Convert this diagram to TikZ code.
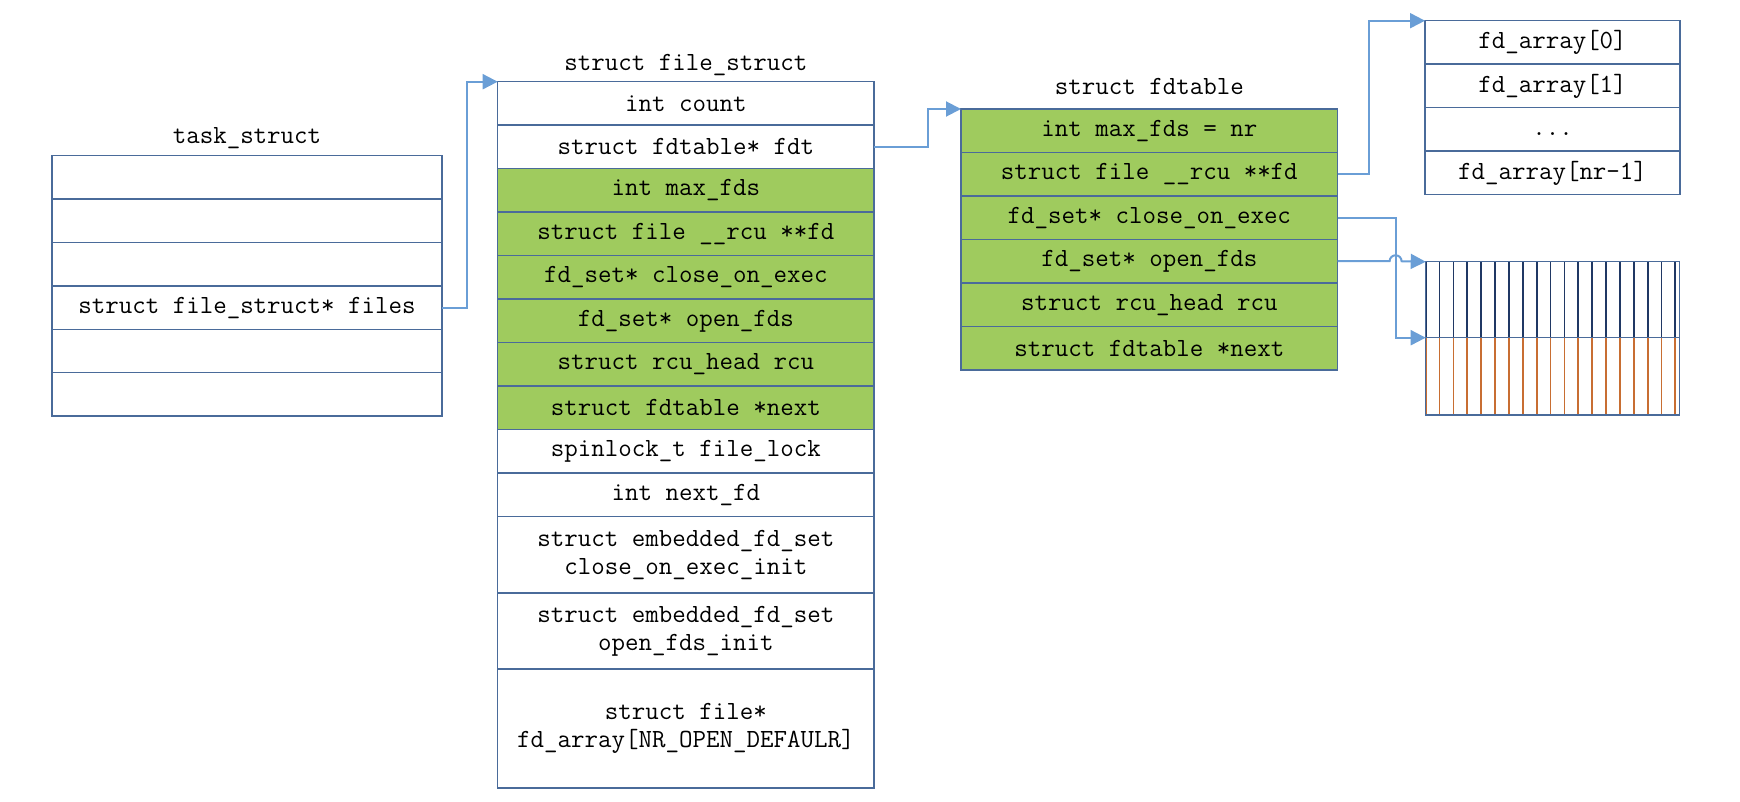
\documentclass[tikz,border=0pt]{standalone}
\usepackage{fontspec}
\usetikzlibrary{positioning,arrows.meta}

\definecolor{boxline}{RGB}{74,107,154}
\definecolor{ptrline}{RGB}{106,158,214}
\definecolor{fdgreen}{RGB}{159,203,94}
\definecolor{bitnavy}{RGB}{32,56,100}
\definecolor{bitorange}{RGB}{200,110,50}

\tikzset{
  field/.style={draw=boxline, line width=0.75pt, fill=white, inner sep=0pt, outer sep=0pt,
    minimum height=21.75pt, align=center, font=\ttfamily\fontsize{13.1}{14.3}\selectfont},
  used/.style={field, fill=fdgreen},
  structname/.style={inner sep=0pt, font=\ttfamily\fontsize{13.1}{14.3}\selectfont},
  ptr/.style={draw=ptrline, line width=1pt, -{Triangle[length=7.5pt,width=7.5pt]}}
}

\begin{document}
\begin{tikzpicture}[x=0.5pt, y=-0.5pt, node distance=0pt]
\useasboundingbox (0,0) rectangle (1740,802);

% task_struct
\node[field, minimum width=195pt, minimum height=21.7pt, anchor=north west] (ts1) at (52,155.7) {};
\node[field, minimum width=195pt, minimum height=21.7pt, below=of ts1] (ts2) {};
\node[field, minimum width=195pt, minimum height=21.7pt, below=of ts2] (ts3) {};
\node[field, minimum width=195pt, minimum height=21.7pt, below=of ts3] (files) {struct file\_struct* files};
\node[field, minimum width=195pt, minimum height=21.7pt, below=of files] (ts5) {};
\node[field, minimum width=195pt, minimum height=21.7pt, below=of ts5] (ts6) {};
\node[structname, above=6.3pt of ts1.north, anchor=base] {task\_struct};

% struct file_struct
\begin{scope}[every node/.append style={minimum width=188.2pt}]
\node[field, anchor=north west] (count) at (497.7,81.7) {int count};
\node[field, below=of count] (fdt) {struct fdtable* fdt};
\node[used, below=of fdt] (fmax) {int max\_fds};
\node[used, below=of fmax] (ffd) {struct file \_\_rcu **fd};
\node[used, below=of ffd] (fcoe) {fd\_set* close\_on\_exec};
\node[used, below=of fcoe] (fopen) {fd\_set* open\_fds};
\node[used, below=of fopen] (frcu) {struct rcu\_head rcu};
\node[used, below=of frcu] (fnext) {struct fdtable *next};
\node[field, below=of fnext] (lock) {spinlock\_t file\_lock};
\node[field, below=of lock] (nextfd) {int next\_fd};
\node[field, minimum height=38.25pt, below=of nextfd] (embcoe) {struct embedded\_fd\_set\\close\_on\_exec\_init};
\node[field, minimum height=38pt, below=of embcoe] (embopen) {struct embedded\_fd\_set\\open\_fds\_init};
\node[field, minimum height=59.3pt, below=of embopen] (fdarr) {struct file*\\fd\_array[NR\_OPEN\_DEFAULR]};
\end{scope}
\node[structname, above=5.8pt of count.north, anchor=base] {struct file\_struct};

% struct fdtable
\begin{scope}[every node/.append style={minimum width=188.3pt, minimum height=21.8pt}]
\node[used, anchor=north west] (tmax) at (961,109) {int max\_fds = nr};
\node[used, below=of tmax] (tfd) {struct file \_\_rcu **fd};
\node[used, below=of tfd] (tcoe) {fd\_set* close\_on\_exec};
\node[used, below=of tcoe] (topen) {fd\_set* open\_fds};
\node[used, below=of topen] (trcu) {struct rcu\_head rcu};
\node[used, below=of trcu] (tnext) {struct fdtable *next};
\end{scope}
\node[structname, above=7pt of tmax.north, anchor=base] {struct fdtable};

% fd_array
\begin{scope}[every node/.append style={minimum width=127.5pt, minimum height=22pt}]
\node[field, anchor=north west] (arr0) at (1425,20.7) {fd\_array[0]};
\node[field, below=of arr0] (arr1) {fd\_array[1]};
\node[field, below=of arr1] (arrdots) {\vphantom{a}...};
\node[field, below=of arrdots] (arrlast) {fd\_array[nr-1]};
\end{scope}

% bitmaps
\node[field, minimum width=126.8pt, minimum height=38pt, anchor=north west] (bitup) at (1425.7,261.7) {};
\node[field, minimum width=126.8pt, minimum height=38.65pt, below=of bitup] (bitlow) {};
\foreach \i in {0,...,18} {
  \draw[bitnavy, line width=0.9pt] ([xshift=\i*6.935pt]bitup.north west) -- ([xshift=\i*6.935pt]bitup.south west);
  \draw[bitorange, line width=0.9pt] ([xshift=\i*6.935pt]bitlow.north west) -- ([xshift=\i*6.935pt]bitlow.south west);
}
\draw[boxline, line width=0.75pt] (bitup.north west) rectangle (bitlow.south east) (bitup.south west) -- (bitup.south east);

% pointers
\draw[ptr] (files.east) -- ++(12.35pt,0) |- (count.north west);
\draw[ptr] (fdt.east) -- ++(27pt,0) |- (tmax.north west);
\draw[ptr] (tfd.east) -- ++(15.5pt,0) |- (arr0.north west);
\draw[ptr] (tcoe.east) -- ++(29pt,0) coordinate (jump) |- (bitlow.north west);
\draw[ptr] (topen.east) -- ([xshift=-3pt]topen.east -| jump) arc[start angle=180, end angle=0, radius=3pt] -- (bitup.north west);
\end{tikzpicture}
\end{document}
